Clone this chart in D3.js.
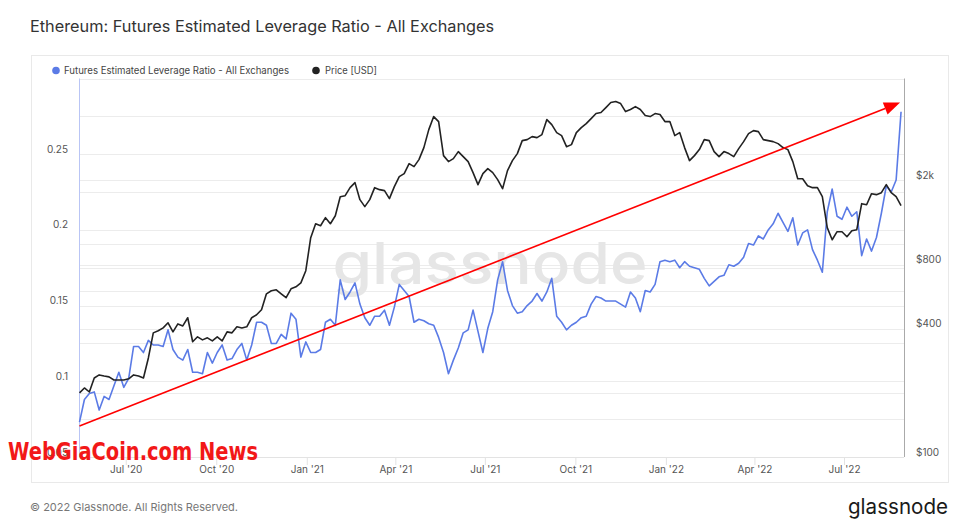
<!DOCTYPE html>
<html><head><meta charset="utf-8">
<script src="https://cdn.jsdelivr.net/npm/d3@7"></script>
<style>
html,body{margin:0;padding:0;background:#fff;}
svg{display:block;font-family:Inter,"Noto Sans",sans-serif;}
</style></head><body>
<svg id="chart" width="967" height="530"></svg>
<script>
// ---------- DATA ----------
const startDate = "2020-05-15";
const stepDays = 5;
const domainDates = ["2020-05-15", "2022-08-31"];

const leverageRatio = [
0.073,0.088,0.092,0.093,0.081,0.090,0.088,0.097,0.106,0.096,
0.102,0.123,0.123,0.119,0.127,0.124,0.124,0.123,0.134,0.121,
0.116,0.114,0.121,0.106,0.106,0.105,0.119,0.112,0.119,0.124,
0.114,0.115,0.121,0.125,0.114,0.124,0.139,0.139,0.137,0.125,
0.125,0.131,0.128,0.145,0.141,0.116,0.126,0.119,0.119,0.121,
0.139,0.141,0.137,0.167,0.154,0.159,0.165,0.151,0.142,0.137,
0.143,0.143,0.147,0.137,0.149,0.164,0.160,0.156,0.139,0.141,
0.140,0.138,0.137,0.129,0.119,0.105,0.114,0.122,0.132,0.134,
0.147,0.133,0.119,0.135,0.146,0.167,0.179,0.160,0.150,0.145,
0.146,0.150,0.153,0.158,0.153,0.159,0.168,0.143,0.139,0.134,
0.137,0.139,0.142,0.143,0.151,0.156,0.155,0.153,0.153,0.153,
0.151,0.149,0.159,0.155,0.146,0.160,0.159,0.164,0.179,0.180,
0.179,0.180,0.175,0.179,0.176,0.175,0.174,0.168,0.163,0.166,
0.169,0.170,0.177,0.176,0.178,0.182,0.191,0.190,0.196,0.194,
0.200,0.204,0.211,0.205,0.199,0.208,0.190,0.198,0.200,0.187,
0.180,0.172,0.212,0.227,0.209,0.207,0.215,0.209,0.212,0.183,
0.194,0.186,0.195,0.211,0.229,0.225,0.233,0.278
];

const priceUSD = [
200,211,202,235,243,240,238,230,230,230,
233,243,240,235,292,383,392,404,427,387,
422,413,451,348,367,355,363,351,367,351,
387,383,409,404,409,451,466,492,584,604,
610,584,560,617,630,658,750,1072,1247,1220,
1331,1247,1360,1671,1689,1842,1945,1618,1500,1618,
1842,1803,1784,1636,1862,2075,2143,2389,2313,2495,
2841,3452,3974,3765,2605,2442,2522,2721,2577,2442,
2167,1903,2143,2262,2167,2009,1822,2214,2468,2663,
3064,3098,3200,3166,3270,3847,3645,3342,3236,2871,
2934,3342,3528,3685,3889,4106,4151,4381,4625,4675,
4575,4196,4288,4429,4288,4018,3974,4106,4062,3765,
3765,3236,3342,2841,2468,2605,2780,3098,3064,2721,
2577,2721,2663,2577,2810,3031,3306,3415,3378,3098,
3064,3031,2966,2841,2780,2442,2030,2030,1882,1842,
1842,1671,1195,1049,1144,1144,1083,1156,1169,1549,
1532,1726,1708,1745,1903,1745,1671,1516
];

const leftDomain = [0.05, 0.3];
const leftTickValues = [0.05, 0.1, 0.15, 0.2, 0.25];
const leftGridValues = [0.075, 0.1, 0.125, 0.15, 0.175, 0.2, 0.225, 0.25, 0.275, 0.3];
const rightDomain = [100, 6000];
const rightTickValues = [100, 400, 800, 2000];
const rightGridValues = [200, 400, 600, 800, 1000, 2000, 4000];
const xTickDates = ["2020-07-01","2020-10-01","2021-01-01","2021-04-01","2021-07-01","2021-10-01","2022-01-01","2022-04-01","2022-07-01"];

const arrowDates = ["2020-05-15", "2022-08-27"];
const arrowValues = [0.0705, 0.2841];

const titleText = "Ethereum: Futures Estimated Leverage Ratio - All Exchanges";
const seriesNames = ["Futures Estimated Leverage Ratio - All Exchanges", "Price [USD]"];
const seriesColors = ["#5b7be6", "#222222"];

// ---------- LAYOUT ----------
const svg = d3.select("#chart");
const P = {left: 79.5, right: 904, top: 78.5, bottom: 457};
const parse = d3.utcParse("%Y-%m-%d");
const t0 = parse(startDate);

const x = d3.scaleUtc().domain(domainDates.map(parse)).range([P.left, P.right]);
const yL = d3.scaleLinear().domain(leftDomain).range([P.bottom, P.top]);
const yR = d3.scaleLog().domain(rightDomain).range([P.bottom, P.top]);

const levData = leverageRatio.map((v, i) => ({date: d3.utcDay.offset(t0, i * stepDays), v}));
const priceData = priceUSD.map((v, i) => ({date: d3.utcDay.offset(t0, i * stepDays), v}));

// title
svg.append("text").attr("x", 30).attr("y", 31.5)
  .attr("font-size", 16.3).attr("fill", "#333").text(titleText);

// card
svg.append("rect").attr("x", 31.5).attr("y", 55.5).attr("width", 917).attr("height", 427)
  .attr("fill", "none").attr("stroke", "#e9e9e9");

// legend
const lg = svg.append("g");
[[56, 64, 225], [316, 325, 52]].forEach((p, i) => {
  lg.append("circle").attr("cx", p[0]).attr("cy", 70.5).attr("r", 3.8).attr("fill", seriesColors[i]);
  lg.append("text").attr("x", p[1]).attr("y", 74).attr("font-size", 9.8).attr("fill", "#444")
    .attr("textLength", p[2]).attr("lengthAdjust", "spacingAndGlyphs").text(seriesNames[i]);
});

// grid lines
const grid = svg.append("g").attr("stroke", "#ececec").attr("stroke-width", 1);
leftGridValues.forEach(v => {
  const yy = Math.round(yL(v)) + 0.5;
  grid.append("line").attr("x1", P.left).attr("x2", P.right).attr("y1", yy).attr("y2", yy);
});
rightGridValues.forEach(v => {
  const yy = Math.round(yR(v)) + 0.5;
  grid.append("line").attr("x1", P.left).attr("x2", P.right).attr("y1", yy).attr("y2", yy);
});

// watermark
svg.append("text").attr("x", 490).attr("y", 284).attr("text-anchor", "middle")
  .attr("font-size", 58).attr("font-weight", 500).attr("fill", "#e6e6e6")
  .attr("textLength", 315).attr("lengthAdjust", "spacingAndGlyphs").text("glassnode");

// bottom axis
const xAxis = svg.append("g").attr("transform", `translate(0,${P.bottom})`)
  .call(d3.axisBottom(x).tickValues(xTickDates.map(parse)).tickFormat(d3.utcFormat("%b '%y")).tickSize(8).tickPadding(0));
xAxis.select(".domain").remove();
xAxis.selectAll(".tick line").attr("stroke", "#e3e3e3");
xAxis.selectAll(".tick text").attr("y", 15.5).attr("dy", 0).attr("font-size", 10).attr("fill", "#555")
  .attr("font-family", "Inter, 'Noto Sans', sans-serif");

// left axis
const lAxis = svg.append("g").attr("transform", `translate(${P.left},0)`)
  .call(d3.axisLeft(yL).tickValues(leftTickValues).tickFormat(d3.format("")).tickSize(0).tickPadding(11.5));
lAxis.select(".domain").remove();
lAxis.selectAll(".tick text").attr("y", -2).attr("dy", 0).attr("font-size", 10).attr("fill", "#555")
  .attr("font-family", "Inter, 'Noto Sans', sans-serif");

// right axis
const rAxis = svg.append("g").attr("transform", `translate(${P.right},0)`)
  .call(d3.axisRight(yR).tickValues(rightTickValues)
    .tickFormat(d => d >= 1000 ? "$" + (d / 1000) + "k" : "$" + d).tickSize(0).tickPadding(12));
rAxis.select(".domain").remove();
rAxis.selectAll(".tick text").attr("y", -2).attr("dy", 0).attr("font-size", 10).attr("fill", "#555")
  .attr("font-family", "Inter, 'Noto Sans', sans-serif");

// frame lines
svg.append("line").attr("x1", P.left).attr("x2", P.right).attr("y1", P.bottom + 0.5).attr("y2", P.bottom + 0.5)
  .attr("stroke", "#e3e3e3");
svg.append("line").attr("x1", P.left).attr("x2", P.left).attr("y1", P.top).attr("y2", P.bottom)
  .attr("stroke", "#b9c5f5");
svg.append("line").attr("x1", P.right + 0.5).attr("x2", P.right + 0.5).attr("y1", P.top).attr("y2", P.bottom)
  .attr("stroke", "#aaaaaa");

// series
svg.append("path").datum(levData).attr("fill", "none").attr("stroke", seriesColors[0]).attr("stroke-width", 1.6)
  .attr("stroke-linejoin", "round")
  .attr("d", d3.line().x(d => x(d.date)).y(d => yL(d.v)));
svg.append("path").datum(priceData).attr("fill", "none").attr("stroke", seriesColors[1]).attr("stroke-width", 1.6)
  .attr("stroke-linejoin", "round")
  .attr("d", d3.line().x(d => x(d.date)).y(d => yR(d.v)));

// red arrow annotation
const ax1 = x(parse(arrowDates[0])), ay1 = yL(arrowValues[0]);
const ax2 = x(parse(arrowDates[1])), ay2 = yL(arrowValues[1]);
const ang = Math.atan2(ay2 - ay1, ax2 - ax1);
const headLen = 16, headW = 6.5;
const bx = ax2 - headLen * Math.cos(ang), by = ay2 - headLen * Math.sin(ang);
svg.append("line").attr("x1", ax1).attr("y1", ay1).attr("x2", bx).attr("y2", by)
  .attr("stroke", "#ff0000").attr("stroke-width", 1.6);
svg.append("path").attr("fill", "#ff0000")
  .attr("d", `M${ax2},${ay2}L${bx - headW * Math.sin(ang)},${by + headW * Math.cos(ang)}L${bx + headW * Math.sin(ang)},${by - headW * Math.cos(ang)}Z`);

// footer
svg.append("text").attr("x", 30).attr("y", 511).attr("font-size", 11).attr("fill", "#777")
  .text("© 2022 Glassnode. All Rights Reserved.");
svg.append("text").attr("x", 948).attr("y", 514).attr("text-anchor", "end").attr("font-size", 21)
  .attr("font-weight", 400).attr("fill", "#1a1a1a")
  .attr("textLength", 100).attr("lengthAdjust", "spacingAndGlyphs").text("glassnode");

// red site watermark
svg.append("text").attr("x", 8).attr("y", 460).attr("font-size", 25).attr("font-weight", 700)
  .attr("font-family", "'Liberation Sans Narrow','DejaVu Sans Condensed','Liberation Sans',sans-serif")
  .attr("fill", "#f21818").attr("textLength", 250).attr("lengthAdjust", "spacingAndGlyphs")
  .text("WebGiaCoin.com News");
</script>
</body></html>
